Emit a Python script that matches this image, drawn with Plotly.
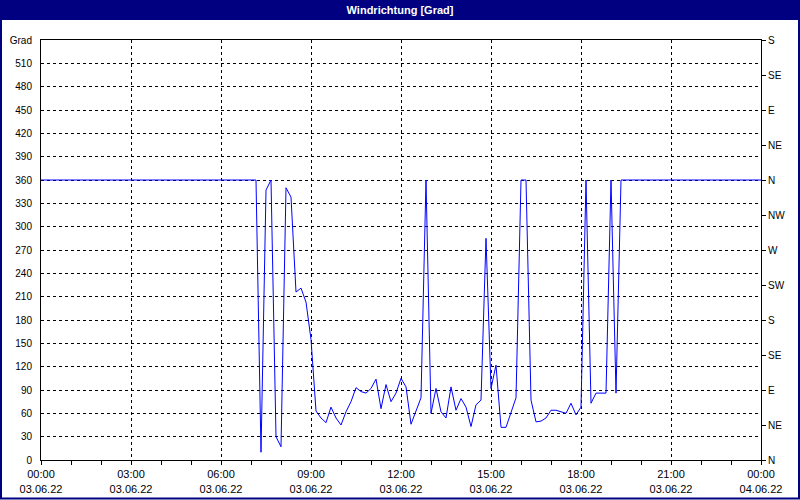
import plotly.graph_objects as go

# ---------------- data ----------------
times = [
    "2022-06-03 00:00",
    "2022-06-03 07:10", "2022-06-03 07:20", "2022-06-03 07:30", "2022-06-03 07:40", "2022-06-03 07:50",
    "2022-06-03 08:00", "2022-06-03 08:10", "2022-06-03 08:20", "2022-06-03 08:30", "2022-06-03 08:40", "2022-06-03 08:50",
    "2022-06-03 09:00", "2022-06-03 09:10", "2022-06-03 09:20", "2022-06-03 09:30", "2022-06-03 09:40", "2022-06-03 09:50",
    "2022-06-03 10:00", "2022-06-03 10:10", "2022-06-03 10:20", "2022-06-03 10:30", "2022-06-03 10:40", "2022-06-03 10:50",
    "2022-06-03 11:00", "2022-06-03 11:10", "2022-06-03 11:20", "2022-06-03 11:30", "2022-06-03 11:40", "2022-06-03 11:50",
    "2022-06-03 12:00", "2022-06-03 12:10", "2022-06-03 12:20", "2022-06-03 12:30", "2022-06-03 12:40", "2022-06-03 12:50",
    "2022-06-03 13:00", "2022-06-03 13:10", "2022-06-03 13:20", "2022-06-03 13:30", "2022-06-03 13:40", "2022-06-03 13:50",
    "2022-06-03 14:00", "2022-06-03 14:10", "2022-06-03 14:20", "2022-06-03 14:30", "2022-06-03 14:40", "2022-06-03 14:50",
    "2022-06-03 15:00", "2022-06-03 15:10", "2022-06-03 15:20", "2022-06-03 15:30", "2022-06-03 15:40", "2022-06-03 15:50",
    "2022-06-03 16:00", "2022-06-03 16:10", "2022-06-03 16:20", "2022-06-03 16:30", "2022-06-03 16:40", "2022-06-03 16:50",
    "2022-06-03 17:00", "2022-06-03 17:10", "2022-06-03 17:20", "2022-06-03 17:30", "2022-06-03 17:40", "2022-06-03 17:50",
    "2022-06-03 18:00", "2022-06-03 18:10", "2022-06-03 18:20", "2022-06-03 18:30", "2022-06-03 18:40", "2022-06-03 18:50",
    "2022-06-03 19:00", "2022-06-03 19:10", "2022-06-03 19:20",
    "2022-06-04 00:00",
]

wind_dir = [
    360,
    360, 10, 347, 360, 30,
    17, 350, 338, 216, 221, 203,
    155, 63, 54, 48, 68, 54,
    45, 62, 75, 93, 88, 86,
    92, 104, 66, 97, 75, 86,
    105, 94, 46, 62, 80, 360,
    60, 92, 62, 54, 94, 64,
    79, 68, 43, 71, 77, 285,
    92, 122, 42, 42, 60, 80,
    360, 360, 77, 49, 50, 54,
    64, 64, 62, 60, 73, 58,
    68, 360, 73, 86, 86, 86,
    360, 86, 360,
    360,
]

x_tick_vals = [
    "2022-06-03 00:00", "2022-06-03 03:00", "2022-06-03 06:00", "2022-06-03 09:00",
    "2022-06-03 12:00", "2022-06-03 15:00", "2022-06-03 18:00", "2022-06-03 21:00",
    "2022-06-04 00:00",
]
x_tick_text = [
    "00:00<br>03.06.22", "03:00<br>03.06.22", "06:00<br>03.06.22", "09:00<br>03.06.22",
    "12:00<br>03.06.22", "15:00<br>03.06.22", "18:00<br>03.06.22", "21:00<br>03.06.22",
    "00:00<br>04.06.22",
]
x_minor_vals = [
    "2022-06-03 01:00", "2022-06-03 02:00", "2022-06-03 04:00", "2022-06-03 05:00",
    "2022-06-03 07:00", "2022-06-03 08:00", "2022-06-03 10:00", "2022-06-03 11:00",
    "2022-06-03 13:00", "2022-06-03 14:00", "2022-06-03 16:00", "2022-06-03 17:00",
    "2022-06-03 19:00", "2022-06-03 20:00", "2022-06-03 22:00", "2022-06-03 23:00",
]

y_left_vals = [0, 30, 60, 90, 120, 150, 180, 210, 240, 270, 300, 330, 360,
               390, 420, 450, 480, 510, 540]
y_left_text = ["0", "30", "60", "90", "120", "150", "180", "210", "240", "270",
               "300", "330", "360", "390", "420", "450", "480", "510", "Grad"]

y_right_vals = [0, 45, 90, 135, 180, 225, 270, 315, 360, 405, 450, 495, 540]
y_right_text = ["N", "NE", "E", "SE", "S", "SW", "W", "NW", "N", "NE", "E", "SE", "S"]

title_text = "Windrichtung [Grad]"

# ---------------- layout helpers ----------------
W, H = 800, 500
ML, MR, MT, MB = 41, 39, 40, 40
PW, PH = W - ML - MR, H - MT - MB


def pxx(x):
    return (x - ML) / PW


def pxy(y):
    return (H - MB - y) / PH


NAVY = "#000080"
FONT = "Tahoma, Liberation Sans, Arial, sans-serif"

fig = go.Figure()
fig.add_trace(go.Scatter(
    x=times, y=wind_dir, mode="lines",
    line=dict(color="#0000ff", width=1),
    hoverinfo="skip", showlegend=False,
))
fig.add_trace(go.Scatter(
    x=[times[0]], y=[0], yaxis="y2", mode="markers",
    marker=dict(opacity=0), hoverinfo="skip", showlegend=False,
))

grid = dict(showgrid=True, gridcolor="black", gridwidth=1, griddash="3px,3px")

fig.update_layout(
    width=W, height=H,
    margin=dict(l=ML, r=MR, t=MT, b=MB, pad=0, autoexpand=False),
    paper_bgcolor="white", plot_bgcolor="white",
    font=dict(family=FONT, size=10, color="black"),
    title=dict(
        text="<b>" + title_text + "</b>",
        x=0.5, xref="container", xanchor="center",
        y=1 - 10 / H, yref="container", yanchor="middle",
        font=dict(family=FONT, size=11, color="white"),
    ),
    xaxis=dict(
        type="date", automargin=False,
        range=[x_tick_vals[0], x_tick_vals[-1]],
        tickmode="array", tickvals=x_tick_vals, ticktext=x_tick_text,
        ticks="outside", ticklen=4, tickcolor="black", tickwidth=1,
        ticklabelstandoff=0, tickfont=dict(size=11),
        showline=True, linecolor="black", linewidth=1, mirror=True,
        zeroline=False, fixedrange=True,
        minor=dict(tickmode="array", tickvals=x_minor_vals, ticks="outside",
                   ticklen=4, tickcolor="black", tickwidth=1, showgrid=False),
        **grid,
    ),
    yaxis=dict(
        range=[0, 540], automargin=False,
        tickmode="array", tickvals=y_left_vals, ticktext=y_left_text,
        ticks="", ticklabelstandoff=6,
        showline=True, linecolor="black", linewidth=1, mirror=True,
        zeroline=False, fixedrange=True,
        **grid,
    ),
    yaxis2=dict(
        range=[0, 540], overlaying="y", side="right", automargin=False,
        tickmode="array", tickvals=y_right_vals, ticktext=y_right_text,
        ticks="outside", ticklen=4, tickcolor="black", tickwidth=1,
        showgrid=False, zeroline=False, showline=False, fixedrange=True,
    ),
    shapes=[
        dict(type="rect", xref="paper", yref="paper", layer="below",
             x0=pxx(0), x1=pxx(W), y0=pxy(20), y1=pxy(0),
             fillcolor=NAVY, line=dict(width=0)),
        dict(type="rect", xref="paper", yref="paper", layer="above",
             x0=pxx(1), x1=pxx(W - 1), y0=pxy(H - 1.5), y1=pxy(10),
             fillcolor="rgba(0,0,0,0)", line=dict(color=NAVY, width=2)),
    ],
)

fig.write_html(
    "out.html",
    config={"displayModeBar": False, "staticPlot": True},
    post_script="document.body.style.margin='0';document.body.style.overflow='hidden';",
)
